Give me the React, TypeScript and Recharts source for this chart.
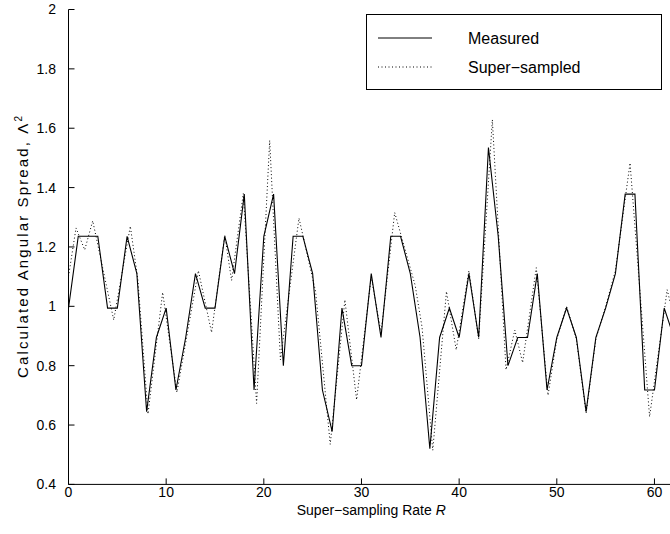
import React from 'react';
import { LineChart, Line, XAxis, YAxis, Legend } from 'recharts';

// Measured angular spread at integer super-sampling rates R = 0..62
const measuredValues: number[] = [
  0.994, 1.236, 1.236, 1.236, 0.994, 0.994, 1.236, 1.11, 0.645, 0.895,
  0.994, 0.718, 0.895, 1.11, 0.994, 0.994, 1.236, 1.11, 1.378, 0.718,
  1.236, 1.378, 0.8, 1.236, 1.236, 1.11, 0.718, 0.578, 0.994, 0.8,
  0.8, 1.11, 0.895, 1.236, 1.236, 1.11, 0.895, 0.52, 0.895, 0.994,
  0.895, 1.11, 0.895, 1.535, 1.236, 0.8, 0.895, 0.895, 1.11, 0.718,
  0.895, 0.994, 0.895, 0.645, 0.895, 0.994, 1.11, 1.378, 1.378, 0.718,
  0.718, 0.994, 0.895,
];

// Super-sampled curve vertices
const superRate: number[] = [
  0, 0.77, 1.66, 2.48, 4.63, 6.33, 7.1, 8.14, 9.64, 11.1,
  13.3, 14.65, 16.0, 16.7, 17.9, 19.26, 20.6, 21.7, 23.6, 25.3,
  26.8, 28.3, 29.5, 31.0, 32.0, 33.4, 35.5, 36.2, 37.3, 38.7,
  39.7, 41.0, 42.0, 43.4, 44.8, 45.7, 46.5, 47.9, 49.1, 50.0,
  51.0, 52.0, 53.0, 54.0, 55.0, 56.0, 57.5, 59.5, 61.3, 62,
];
const superValues: number[] = [
  1.1, 1.264, 1.19, 1.288, 0.954, 1.27, 1.09, 0.637, 1.047, 0.71,
  1.12, 0.912, 1.24, 1.087, 1.38, 0.673, 1.559, 0.82, 1.297, 1.05,
  0.535, 1.022, 0.685, 1.1, 0.91, 1.316, 1.07, 0.93, 0.515, 1.05,
  0.853, 1.12, 0.89, 1.629, 0.786, 0.92, 0.81, 1.13, 0.7, 0.89,
  1.0, 0.89, 0.64, 0.89, 1.0, 1.12, 1.483, 0.628, 1.056, 0.96,
];

const xTicks: number[] = [0, 10, 20, 30, 40, 50, 60];
const yTicks: number[] = [0.4, 0.6, 0.8, 1, 1.2, 1.4, 1.6, 1.8, 2];

const measuredName = 'Measured';
const superName = 'Super\u2212sampled';

const measuredData = measuredValues.map((v, i) => ({ x: i, y: v }));
const superData = superRate.map((r, i) => ({ x: r, y: superValues[i] }));

const FONT = '"Liberation Sans", Arial, Helvetica, sans-serif';

const fmtY = (v: number) => String(Number(v.toFixed(1)));

const XLabel = (props: any) => {
  const vb = props.viewBox || {};
  const cx = vb.x + vb.width / 2;
  return (
    <text x={cx} y={515} textAnchor="middle" fontFamily={FONT} fontSize={14} fill="#000">
      Super{'\u2212'}sampling Rate <tspan fontStyle="italic">R</tspan>
    </text>
  );
};

const YLabel = (props: any) => {
  const vb = props.viewBox || {};
  const cy = vb.y + vb.height / 2;
  const x = 28;
  return (
    <text
      x={x}
      y={cy}
      transform={`rotate(-90 ${x} ${cy})`}
      textAnchor="middle"
      fontFamily={FONT}
      fontSize={15}
      fill="#000"
      textLength={262}
      lengthAdjust="spacing"
    >
      Calculated Angular Spread, {'\u039B'}
      <tspan dy={-6} fontSize={10}>2</tspan>
    </text>
  );
};

const LegendBox = (props: any) => {
  const payload = props.payload || [];
  return (
    <svg width={296} height={76} style={{ display: 'block' }}>
      <rect x={0.5} y={0.5} width={295} height={75} fill="#fff" stroke="#000" strokeWidth={1} />
      {payload.map((entry: any, i: number) => {
        const yy = 24 + i * 29;
        const dash = entry.payload && entry.payload.strokeDasharray;
        return (
          <g key={i}>
            <line x1={12} x2={66} y1={yy} y2={yy} stroke="#000" strokeWidth={1} strokeDasharray={dash} />
            <text x={102} y={yy + 5.5} fontFamily={FONT} fontSize={16} fill="#000">
              {entry.value}
            </text>
          </g>
        );
      })}
    </svg>
  );
};

export default function App() {
  return (
    <div
      style={{
        position: 'absolute',
        left: 0,
        top: 0,
        width: 670,
        height: 534,
        overflow: 'hidden',
        background: '#fff',
      }}
    >
      <LineChart width={680} height={534} margin={{ top: 9.5, right: 6, bottom: 19.6, left: 0 }}>
        <XAxis
          xAxisId="b"
          type="number"
          dataKey="x"
          domain={[0, 62]}
          ticks={xTicks}
          allowDataOverflow
          height={30}
          tickSize={-6}
          tickMargin={9}
          stroke="#000"
          tick={{ fill: '#000', fontSize: 14, fontFamily: FONT }}
          label={<XLabel />}
        />
        <XAxis
          xAxisId="t"
          orientation="top"
          type="number"
          dataKey="x"
          domain={[0, 62]}
          ticks={xTicks}
          allowDataOverflow
          height={0}
          tickSize={-6}
          tick={false}
          stroke="#000"
        />
        <YAxis
          yAxisId="l"
          type="number"
          domain={[0.4, 2]}
          ticks={yTicks}
          allowDataOverflow
          width={68.5}
          tickSize={-6}
          tickMargin={18.5}
          tickFormatter={fmtY}
          stroke="#000"
          tick={{ fill: '#000', fontSize: 14, fontFamily: FONT }}
          label={<YLabel />}
        />
        <YAxis
          yAxisId="r"
          orientation="right"
          type="number"
          domain={[0.4, 2]}
          ticks={yTicks}
          allowDataOverflow
          width={0}
          tickSize={-6}
          tick={false}
          stroke="#000"
        />
        <Legend
          layout="vertical"
          verticalAlign="middle"
          align="center"
          content={<LegendBox />}
          wrapperStyle={{ position: 'absolute', left: 366, top: 14, width: 296, height: 76 }}
        />
        <Line
          name={measuredName}
          xAxisId="b"
          yAxisId="l"
          data={measuredData}
          dataKey="y"
          type="linear"
          stroke="#000"
          strokeWidth={1.1}
          dot={false}
          isAnimationActive={false}
        />
        <Line
          name={superName}
          xAxisId="b"
          yAxisId="l"
          data={superData}
          dataKey="y"
          type="linear"
          stroke="#000"
          strokeWidth={1}
          strokeDasharray="1 2.5"
          dot={false}
          isAnimationActive={false}
        />
      </LineChart>
    </div>
  );
}
